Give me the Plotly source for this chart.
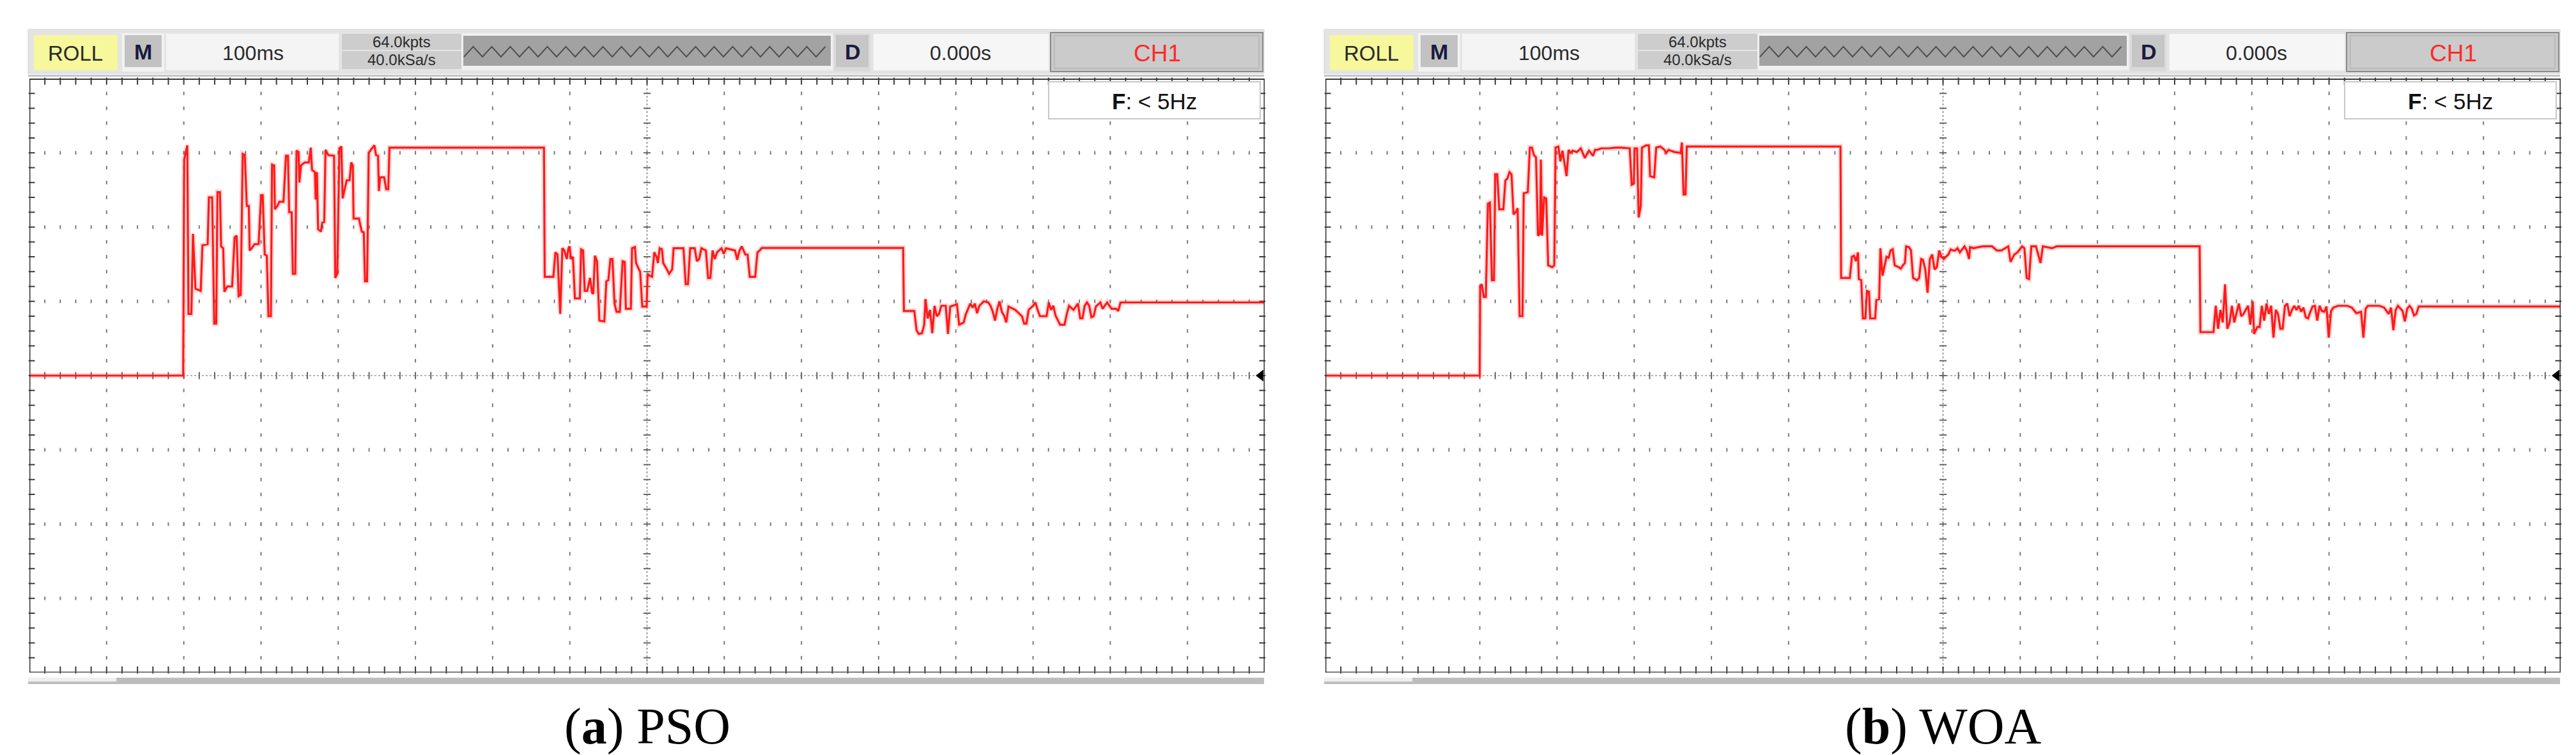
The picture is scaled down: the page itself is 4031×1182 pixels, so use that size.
import plotly.graph_objects as go

W, H = 4031, 1182

# ---- data: (time in ms, level in divisions) ----
pso_trace = [
    (0, 0.0), (199.2, 0.0), (200.5, 2.91), (204.5, 3.10), (206.1, 0.83), (209.8, 0.83), (211.9, 1.91),
    (215.1, 1.17), (221.9, 1.14), (224.1, 1.755), (230.9, 1.77), (232.5, 2.40), (236.7, 2.40), (239.4, 0.70),
    (242.0, 0.70), (243.6, 2.47), (246.8, 2.47), (248.3, 1.74), (251.0, 1.715), (252.6, 1.13), (256.3, 1.20),
    (262.6, 1.20), (265.8, 1.86), (268.4, 1.885), (271.0, 1.07), (273.7, 1.085), (276.3, 2.985), (279.0, 2.97),
    (281.6, 2.285), (284.2, 2.285), (285.3, 1.685), (287.9, 1.715), (291.6, 1.77), (296.9, 1.77), (300.1, 2.43),
    (302.2, 2.43), (304.8, 1.63), (307.5, 1.615), (309.6, 0.80), (312.8, 0.80), (314.3, 2.84), (317.0, 2.83),
    (318.0, 2.24), (321.2, 2.285), (323.8, 2.34), (329.1, 2.34), (332.3, 2.96), (334.9, 2.96), (336.5, 2.20),
    (339.7, 2.20), (341.3, 1.37), (344.4, 1.37), (346.0, 3.03), (348.7, 3.01), (349.7, 2.60), (351.8, 2.83),
    (356.6, 2.87), (361.9, 2.87), (364.5, 3.07), (366.1, 2.77), (369.8, 2.74), (370.8, 2.37), (372.4, 2.74),
    (374.0, 1.97), (377.7, 1.94), (379.3, 2.06), (381.9, 2.07), (383.5, 3.04), (387.2, 2.97), (394.6, 2.96),
    (396.2, 1.315), (398.8, 1.37), (401.5, 3.06), (404.1, 3.085), (405.7, 2.385), (408.3, 2.51), (411.0, 2.63),
    (414.7, 2.63), (416.8, 2.87), (418.9, 2.83), (419.9, 2.115), (426.8, 2.115), (430.5, 1.94), (433.1, 1.93),
    (434.7, 1.27), (437.4, 1.27), (439.5, 3.00), (443.7, 3.06), (446.9, 3.10), (449.0, 2.97), (451.6, 2.96),
    (452.7, 2.485), (454.3, 2.67), (459.5, 2.67), (462.2, 2.51), (464.8, 2.51), (466.4, 3.07), (666.5, 3.07),
    (667.5, 1.33), (678.7, 1.33), (681.3, 1.66), (684.0, 1.63), (687.6, 0.83), (690.3, 1.715), (692.9, 1.685),
    (696.1, 1.57), (698.2, 1.715), (699.8, 1.74), (701.4, 1.57), (704.0, 1.60), (706.6, 1.04), (713.0, 1.04),
    (714.6, 1.70), (717.2, 1.685), (719.3, 1.14), (722.5, 1.14), (726.2, 1.315), (728.8, 1.115), (730.4, 1.10),
    (732.5, 1.615), (735.2, 1.54), (738.3, 0.74), (744.7, 0.73), (747.3, 1.27), (749.9, 1.285), (752.6, 1.57),
    (755.2, 1.57), (757.9, 0.97), (760.5, 0.86), (764.7, 0.86), (768.4, 1.54), (771.1, 1.53), (772.6, 0.90),
    (779.0, 0.90), (780.6, 1.715), (784.3, 1.73), (785.8, 1.515), (789.5, 1.43), (791.1, 1.40), (793.8, 0.93),
    (799.5, 0.93), (800.7, 1.37), (803.6, 1.345), (806.5, 1.33), (809.4, 1.66), (812.3, 1.60), (814.1, 1.515),
    (816.4, 1.715), (819.3, 1.70), (821.0, 1.515), (823.9, 1.47), (825.7, 1.43), (828.6, 1.37), (832.6, 1.43),
    (834.4, 1.715), (847.2, 1.715), (850.1, 1.23), (853.0, 1.23), (855.9, 1.715), (861.7, 1.715), (864.6, 1.54),
    (867.5, 1.57), (870.4, 1.715), (876.2, 1.685), (879.1, 1.315), (882.0, 1.315), (884.9, 1.685), (887.8, 1.57),
    (890.7, 1.66), (896.5, 1.715), (899.4, 1.64), (902.3, 1.715), (914.0, 1.685), (916.8, 1.56), (919.8, 1.685),
    (922.7, 1.74), (927.3, 1.63), (930.2, 1.63), (933.1, 1.33), (940.1, 1.33), (943.0, 1.66), (945.9, 1.685),
    (948.8, 1.72), (1131.7, 1.72), (1132.7, 0.87), (1146.2, 0.87), (1149.1, 0.61), (1152.0, 0.56), (1156.1, 0.57),
    (1159.0, 0.685), (1160.7, 1.03), (1163.6, 0.77), (1166.5, 0.885), (1169.5, 0.57), (1172.4, 0.94), (1175.3, 0.80),
    (1178.2, 0.83), (1181.1, 0.94), (1186.9, 0.94), (1189.8, 0.56), (1192.7, 0.93), (1201.4, 0.96), (1204.3, 0.685),
    (1210.1, 0.715), (1213.0, 0.83), (1218.8, 0.97), (1221.7, 0.915), (1224.6, 0.97), (1227.5, 0.84), (1230.4, 0.94),
    (1236.2, 1.00), (1242.0, 0.985), (1244.9, 0.94), (1247.8, 0.86), (1250.7, 0.74), (1253.7, 0.90), (1256.6, 1.00),
    (1259.5, 0.86), (1262.4, 0.81), (1265.3, 0.715), (1268.2, 0.93), (1276.9, 0.885), (1285.6, 0.80), (1288.5, 0.70),
    (1291.4, 0.70), (1294.3, 0.885), (1300.1, 0.94), (1303.0, 0.985), (1305.9, 0.885), (1308.8, 0.80), (1317.5, 0.80),
    (1320.4, 0.985), (1323.3, 0.885), (1326.2, 0.94), (1329.1, 0.81), (1335.0, 0.685), (1340.8, 0.685), (1343.7, 0.83),
    (1346.6, 0.94), (1352.4, 0.885), (1358.2, 0.97), (1361.1, 0.77), (1364.0, 0.77), (1366.9, 0.94), (1369.8, 0.985),
    (1372.7, 0.94), (1375.6, 0.785), (1378.5, 0.80), (1381.4, 0.93), (1387.2, 0.985), (1390.1, 0.90), (1395.9, 0.985),
    (1401.7, 0.90), (1407.5, 0.90), (1410.4, 0.87), (1413.3, 0.985), (1600, 0.985),
]

woa_trace = [
    (0, 0.0), (199.9, 0.0), (200.5, 1.20), (202.5, 1.23), (205.2, 1.06), (207.8, 1.06), (210.5, 2.315),
    (213.1, 2.33), (215.7, 1.285), (218.4, 1.285), (220.0, 2.71), (222.6, 2.71), (225.2, 2.24), (230.5, 2.24),
    (233.2, 2.63), (235.8, 2.655), (238.4, 2.74), (241.1, 2.71), (243.7, 2.17), (246.4, 2.20), (249.0, 2.255),
    (251.6, 0.80), (255.3, 0.80), (256.9, 2.455), (262.2, 2.47), (264.8, 3.07), (267.5, 3.07), (270.1, 2.97),
    (272.8, 2.94), (275.4, 1.885), (278.0, 1.91), (279.1, 2.91), (280.7, 1.885), (283.3, 2.40), (286.0, 2.385),
    (288.6, 1.485), (293.9, 1.46), (296.5, 1.485), (298.1, 3.07), (301.8, 3.085), (304.4, 2.885), (307.1, 3.03),
    (309.7, 2.86), (312.4, 2.685), (315.0, 3.04), (317.6, 3.00), (320.3, 3.03), (325.6, 3.01), (330.8, 3.06),
    (336.1, 2.93), (338.8, 2.985), (341.4, 3.03), (346.7, 2.96), (349.3, 3.04), (352.0, 3.04), (357.2, 3.06),
    (367.8, 3.06), (375.7, 3.07), (383.6, 3.07), (394.2, 3.06), (396.8, 2.57), (399.5, 2.585), (400.5, 3.06),
    (403.7, 3.06), (405.8, 2.13), (408.5, 2.285), (410.0, 3.07), (415.3, 3.10), (419.0, 3.10), (420.6, 2.685),
    (425.9, 2.67), (428.5, 3.07), (433.8, 3.085), (439.1, 3.04), (441.7, 3.00), (444.4, 3.04), (452.3, 3.01),
    (460.2, 3.00), (461.8, 3.14), (463.9, 2.44), (466.5, 2.44), (468.1, 3.085), (667.2, 3.085), (668.0, 1.315),
    (679.3, 1.315), (682.0, 1.60), (684.6, 1.615), (687.2, 1.54), (689.9, 1.66), (690.9, 1.30), (694.1, 1.285),
    (696.2, 0.77), (699.4, 0.77), (701.5, 1.14), (704.1, 1.13), (705.7, 0.77), (712.1, 0.77), (713.6, 1.015),
    (717.3, 1.03), (718.9, 1.715), (721.6, 1.345), (724.2, 1.485), (726.8, 1.60), (729.5, 1.585), (732.1, 1.685),
    (734.8, 1.70), (737.4, 1.485), (742.7, 1.46), (745.3, 1.44), (748.0, 1.485), (750.6, 1.515), (752.2, 1.74),
    (755.9, 1.73), (758.5, 1.685), (761.2, 1.315), (766.4, 1.285), (769.1, 1.315), (771.7, 1.57), (774.0, 1.56),
    (777.0, 1.43), (780.0, 1.115), (783.0, 1.57), (786.0, 1.63), (789.0, 1.43), (792.0, 1.46), (795.0, 1.685),
    (798.0, 1.60), (800.9, 1.57), (803.9, 1.60), (806.9, 1.63), (809.9, 1.70), (812.8, 1.685), (815.8, 1.685),
    (818.8, 1.715), (821.8, 1.66), (824.8, 1.70), (827.8, 1.74), (830.8, 1.685), (833.8, 1.57), (835.0, 1.73),
    (839.7, 1.715), (845.7, 1.73), (851.7, 1.74), (863.6, 1.74), (869.6, 1.685), (875.6, 1.685), (880.3, 1.715),
    (884.5, 1.74), (887.5, 1.53), (892.3, 1.63), (896.5, 1.66), (899.5, 1.70), (902.4, 1.74), (905.4, 1.715),
    (908.4, 1.315), (911.4, 1.30), (914.4, 1.74), (920.4, 1.74), (923.3, 1.63), (926.3, 1.515), (929.3, 1.74),
    (941.3, 1.715), (947.2, 1.74), (1132.4, 1.74), (1133.4, 0.585), (1150.3, 0.585), (1153.3, 0.94), (1156.3, 0.63),
    (1159.3, 0.885), (1162.3, 0.715), (1165.3, 1.23), (1168.2, 0.63), (1171.2, 0.715), (1174.2, 0.94), (1177.2, 0.715),
    (1180.2, 0.83), (1183.2, 0.97), (1186.2, 0.80), (1189.2, 0.83), (1192.1, 0.885), (1195.1, 0.94), (1198.1, 0.685),
    (1201.1, 1.00), (1202.9, 0.56), (1207.1, 0.655), (1210.1, 0.655), (1213.0, 0.94), (1216.0, 0.74), (1219.0, 0.97),
    (1222.0, 0.83), (1225.0, 0.94), (1228.0, 0.51), (1231.0, 0.885), (1233.9, 0.83), (1236.9, 0.63), (1239.9, 0.63),
    (1242.9, 0.94), (1245.9, 0.97), (1248.9, 0.80), (1251.9, 0.885), (1254.9, 0.94), (1257.8, 0.885), (1260.8, 0.94),
    (1263.8, 0.86), (1266.8, 0.915), (1269.8, 0.785), (1272.8, 0.77), (1275.8, 0.86), (1278.7, 0.93), (1281.7, 0.94),
    (1284.7, 0.74), (1287.7, 0.94), (1290.7, 0.87), (1293.7, 0.86), (1296.7, 0.93), (1299.6, 0.51), (1302.6, 0.87),
    (1305.6, 0.915), (1311.6, 0.94), (1323.5, 0.94), (1329.5, 0.915), (1335.5, 0.84), (1341.5, 0.86), (1344.5, 0.51),
    (1347.4, 0.90), (1350.4, 0.94), (1365.4, 0.94), (1371.3, 0.915), (1377.3, 0.83), (1380.3, 0.915), (1383.3, 0.61),
    (1386.3, 0.885), (1389.2, 0.94), (1395.2, 0.87), (1398.2, 0.73), (1401.2, 0.90), (1404.2, 0.94), (1407.2, 0.90),
    (1410.1, 0.81), (1413.1, 0.83), (1416.1, 0.93), (1600, 0.93),
]

header_mode = "ROLL"
header_m = "<b>M</b>"
header_timebase = "100ms"
header_depth = "64.0kpts"
header_rate = "40.0kSa/s"
header_d = "<b>D</b>"
header_delay = "0.000s"
header_channel = "CH1"
filter_label = "<b>F</b>: &lt; 5Hz"
captions = ["(<b>a</b>) PSO", "(<b>b</b>) WOA"]
traces = [pso_trace, woa_trace]

# ---- geometry ----
MS_PER_DIV = 100
NX, NY = 16, 8
PANEL_X0 = [38, 2066]
PANEL_DX = [0, 2028]
PLOT_W = 1933
PLOT_TOP, PLOT_BOT = 115, 1045
HDR = "Liberation Sans, Arial, sans-serif"
SERIF = "Liberation Serif, Times New Roman, serif"
RED = "#ff1a1a"

def fx(x):
    return x / W

def fy(y):
    return 1 - y / H

shapes, annots = [], []

def rect(x0, y0, x1, y1, fill, line=None, lw=0):
    shapes.append(dict(type="rect", xref="paper", yref="paper", x0=fx(x0), x1=fx(x1), y0=fy(y1), y1=fy(y0),
                       fillcolor=fill, line=dict(color=line or fill, width=lw), layer="above"))

def label(x, y, text, size, color="#2a2a2a", family=HDR):
    annots.append(dict(xref="paper", yref="paper", x=fx(x), y=fy(y), text=text, showarrow=False,
                       xanchor="center", yanchor="middle", font=dict(size=size, color=color, family=family)))

fig = go.Figure()
layout_axes = {}
XMAX = NX * MS_PER_DIV
YMAX = NY / 2

for i in range(2):
    xa = "x" if i == 0 else "x2"
    ya = "y" if i == 0 else "y2"
    xkey = "xaxis" if i == 0 else "xaxis2"
    ykey = "yaxis" if i == 0 else "yaxis2"
    x0 = PANEL_X0[i]
    layout_axes[xkey] = dict(domain=[fx(x0), fx(x0 + PLOT_W)], range=[0, XMAX], visible=False,
                             anchor=ya, fixedrange=True)
    layout_axes[ykey] = dict(domain=[fy(PLOT_BOT), fy(PLOT_TOP)], range=[-YMAX, YMAX], visible=False,
                             anchor=xa, fixedrange=True)

    # dotted grid columns and rows
    gx, gy = [], []
    for k in range(1, NX):
        if k == NX // 2:
            continue
        for j in range(1, NY * 5):
            gx.append(k * MS_PER_DIV)
            gy.append(-YMAX + 0.2 * j)
    for r in range(-3, 4):
        if r == 0:
            continue
        for j in range(1, NX * 5):
            gx.append(j * MS_PER_DIV / 5)
            gy.append(r)
    fig.add_trace(go.Scatter(x=gx, y=gy, mode="markers", xaxis=xa, yaxis=ya, hoverinfo="skip",
                             marker=dict(symbol="line-ns", size=4, line=dict(width=2, color="#7a7a7a"))))

    # centre lines
    shapes.append(dict(type="line", xref=xa, yref=ya, x0=XMAX / 2, x1=XMAX / 2, y0=-YMAX, y1=YMAX,
                       line=dict(color="#a0a0a0", width=2, dash="dot"), layer="below"))
    shapes.append(dict(type="line", xref=xa, yref=ya, x0=0, x1=XMAX, y0=0, y1=0,
                       line=dict(color="#b4b4b4", width=2, dash="dot"), layer="below"))
    cy = [-YMAX + 0.2 * j for j in range(1, NY * 5)]
    fig.add_trace(go.Scatter(x=[XMAX / 2] * len(cy), y=cy, mode="markers", xaxis=xa, yaxis=ya, hoverinfo="skip",
                             marker=dict(symbol="line-ew", size=8, line=dict(width=2, color="#666"))))
    cx = [j * MS_PER_DIV / 5 for j in range(1, NX * 5)]
    fig.add_trace(go.Scatter(x=cx, y=[0] * len(cx), mode="markers", xaxis=xa, yaxis=ya, hoverinfo="skip",
                             marker=dict(symbol="line-ns", size=8, line=dict(width=2, color="#666"))))

    # rulers on frame
    tx = cx
    fig.add_trace(go.Scatter(x=tx + tx, y=[YMAX - 0.035] * len(tx) + [-YMAX + 0.035] * len(tx), mode="markers",
                             xaxis=xa, yaxis=ya, hoverinfo="skip", cliponaxis=False,
                             marker=dict(symbol="line-ns", size=8, line=dict(width=2, color="#3a3a3a"))))
    fig.add_trace(go.Scatter(x=[3] * len(cy) + [XMAX - 3] * len(cy), y=cy + cy, mode="markers",
                             xaxis=xa, yaxis=ya, hoverinfo="skip", cliponaxis=False,
                             marker=dict(symbol="line-ew", size=7, line=dict(width=2, color="#3a3a3a"))))

    # signal
    t = [p[0] for p in traces[i]]
    v = [p[1] for p in traces[i]]
    fig.add_trace(go.Scatter(x=t, y=v, mode="lines", xaxis=xa, yaxis=ya, hoverinfo="skip",
                             line=dict(color="rgba(255,40,40,0.18)", width=8)))
    fig.add_trace(go.Scatter(x=t, y=v, mode="lines", xaxis=xa, yaxis=ya, hoverinfo="skip",
                             line=dict(color=RED, width=3.2)))
    # ground marker
    fig.add_trace(go.Scatter(x=[XMAX - 5], y=[0], mode="markers", xaxis=xa, yaxis=ya, hoverinfo="skip",
                             cliponaxis=False, marker=dict(symbol="triangle-left", size=16, color="#000")))

    # frame
    for (a0, b0, a1, b1, col, w) in [(0, YMAX, XMAX, YMAX, "#3a3a3a", 4), (0, -YMAX, XMAX, -YMAX, "#555", 3),
                                     (0, -YMAX, 0, YMAX, "#333", 3), (XMAX, -YMAX, XMAX, YMAX, "#333", 3)]:
        shapes.append(dict(type="line", xref=xa, yref=ya, x0=a0, x1=a1, y0=b0, y1=b1,
                           line=dict(color=col, width=w), layer="above"))

    dx = PANEL_DX[i]
    # header bar
    rect(36 + dx, 38, 1970 + dx, 107, "#e4e4e4", "#d4d4d4", 1)
    rect(36 + dx, 109, 1970 + dx, 112, "#c4c4c4")
    rect(45 + dx, 47, 176 + dx, 102, "#f7f79c")
    label(110 + dx, 75, header_mode, 33)
    rect(183 + dx, 44, 249 + dx, 104, "#f2f2f2")
    rect(187 + dx, 47, 245 + dx, 97, "#c2c2c2")
    label(216 + dx, 73, header_m, 34, "#1a1a40")
    rect(252 + dx, 45, 522 + dx, 102, "#f4f4f4")
    label(388 + dx, 75, header_timebase, 32)
    rect(527 + dx, 45, 714 + dx, 70, "#cdcdcd")
    rect(527 + dx, 72, 714 + dx, 100, "#cdcdcd")
    label(620 + dx, 58, header_depth, 24)
    label(620 + dx, 86, header_rate, 24)
    rect(714 + dx, 44, 1295 + dx, 102, "#f0f0f0")
    rect(717 + dx, 48, 1292 + dx, 95, "#a2a2a2")
    pts = []
    xz = 718
    k = 0
    while xz <= 1291:
        yz = 81 if k % 2 == 0 else 65
        pts.append(f"{fx(xz + dx):.6f},{fy(yz):.6f}")
        xz += 14.5
        k += 1
    shapes.append(dict(type="path", xref="paper", yref="paper", path="M" + " L".join(pts),
                       line=dict(color="#505050", width=2), layer="above"))
    rect(1297 + dx, 44, 1354 + dx, 104, "#dadada")
    rect(1300 + dx, 47, 1351 + dx, 97, "#c6c6c6")
    label(1326 + dx, 73, header_d, 34, "#1a1a40")
    rect(1359 + dx, 45, 1633 + dx, 102, "#f6f6f6")
    label(1495 + dx, 75, header_delay, 32)
    rect(1636 + dx, 43, 1968 + dx, 104, "#c9c9c9", "#8a8a8a", 2)
    rect(1642 + dx, 48, 1962 + dx, 99, "#cbcbcb", "#aaaaaa", 1)
    label(1803 + dx, 75, header_channel, 37, "#ff2a2a")

    # filter box
    rect(1633 + dx, 120, 1964 + dx, 178, "#ffffff", "#c8c8c8", 2)
    label(1798 + dx, 150, filter_label, 35, "#111")

    # bottom scroll bar
    rect(36 + dx, 1053, 1970 + dx, 1063, "#bdbdbd")
    rect(36 + dx, 1053, 174 + dx, 1059, "#efefef")

    # caption
    label(x0 + PLOT_W / 2, 1129, captions[i], 80, "#000", SERIF)

fig.update_layout(width=W, height=H, autosize=False, margin=dict(l=0, r=0, t=0, b=0, pad=0),
                  paper_bgcolor="white", plot_bgcolor="white", showlegend=False,
                  shapes=shapes, annotations=annots, **layout_axes)
fig.write_html("out.html", config={"displayModeBar": False})
